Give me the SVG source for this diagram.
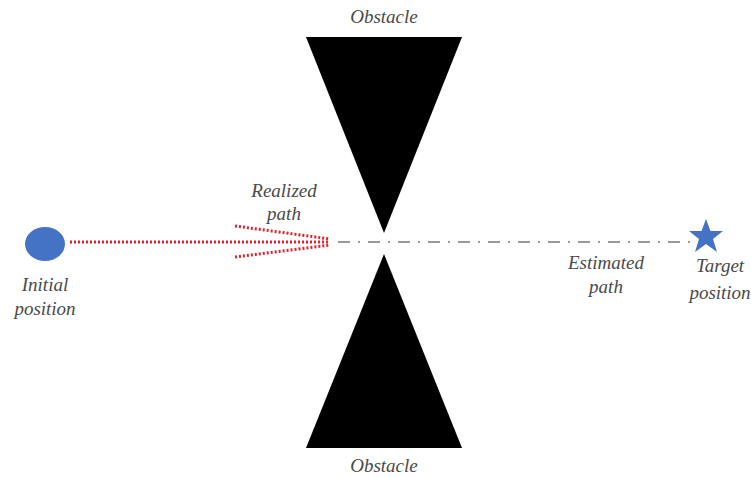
<svg xmlns="http://www.w3.org/2000/svg" width="751" height="478" viewBox="0 0 751 478">
<style>
.lbl{font-family:"Liberation Serif",serif;font-style:italic;font-size:19px;fill:#4a4a4a;text-anchor:middle}
.red{stroke:#e8202a;stroke-width:3;stroke-dasharray:2 2;fill:none}
</style>
<rect width="751" height="478" fill="#fff"/>
<g id="obstacle-top">
<polygon points="306,37 462,37 384,233" fill="#000"/>
<text class="lbl" x="384" y="23">Obstacle</text>
</g>
<g id="obstacle-bottom">
<polygon points="384,254 462,448 306,448" fill="#000"/>
<text class="lbl" x="384" y="472">Obstacle</text>
</g>
<g id="initial">
<ellipse cx="45" cy="244" rx="20" ry="17" fill="#4472c4"/>
<text class="lbl" x="45" y="291">Initial</text>
<text class="lbl" x="45" y="315">position</text>
</g>
<g id="target">
<polygon points="706,219 710.5,231 723,231 713,239 717,252 706,244 695,252 699,239 689,231 701.5,231" fill="#4472c4"/>
<text class="lbl" x="720" y="272">Target</text>
<text class="lbl" x="720" y="299">position</text>
</g>
<g id="connectors">
<line x1="338" y1="242" x2="690" y2="242" stroke="#999" stroke-width="2" stroke-dasharray="12 8 2 8"/>
<line class="red" x1="70" y1="242" x2="330" y2="242"/>
<line class="red" x1="235" y1="226" x2="330" y2="239"/>
<line class="red" x1="235" y1="257" x2="330" y2="245"/>
</g>
<g id="labels">
<text class="lbl" x="284" y="197">Realized</text>
<text class="lbl" x="284" y="220">path</text>
<text class="lbl" x="606" y="269">Estimated</text>
<text class="lbl" x="606" y="293">path</text>
</g>
</svg>
